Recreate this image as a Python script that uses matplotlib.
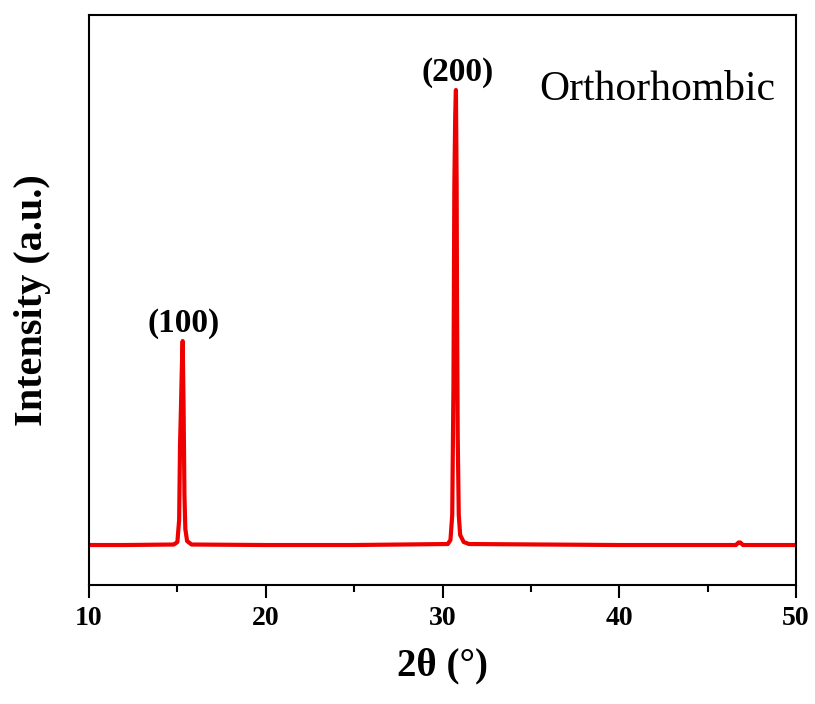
import matplotlib
matplotlib.use("Agg")
import matplotlib.pyplot as plt

# XRD pattern (arbitrary units)
two_theta = [10.0, 12.0, 14.8, 15.0, 15.1, 15.15, 15.2, 15.25, 15.3, 15.35, 15.4, 15.45, 15.55, 15.8,
             20.0, 25.0, 30.3, 30.45, 30.55, 30.62, 30.67, 30.72, 30.76, 30.8, 30.82, 30.86, 30.92,
             31.0, 31.2, 31.5, 40.0, 46.6, 46.75, 46.85, 47.0, 50.0]
intensity = [400, 400, 405, 430, 650, 1400, 1750, 2150, 2440, 1800, 900, 560, 440, 405,
             400, 400, 410, 450, 700, 2000, 4000, 4700, 4950, 4000, 2900, 1500, 700,
             500, 430, 410, 400, 400, 425, 425, 400, 400]

peak_labels = ["(100)", "(200)"]
peak_pos = [15.3, 30.76]
peak_int = [2440, 4950]

fig = plt.figure(figsize=(8.15, 7.04), dpi=100)
ax = fig.add_axes([0.1092, 0.169, 0.8675, 0.8097])

ax.plot(two_theta, intensity, color="#ee0000", lw=3)

for lab, px, py in zip(peak_labels, peak_pos, peak_int):
    ax.annotate(lab, (px, py), xytext=(1, 7), textcoords="offset points", ha="center", va="baseline",
                family="Liberation Serif", fontweight="bold", fontsize=24)

ax.text(0.97, 0.868, "Orthorhombic", transform=ax.transAxes, ha="right", va="center",
        family="Liberation Serif", fontsize=30)

ax.set_xlim(10, 50)
ax.set_ylim(0, 5700)
ax.set_xticks([10, 20, 30, 40, 50])
ax.set_xticks([15, 25, 35, 45], minor=True)
ax.set_yticks([])
ax.tick_params(axis="x", which="major", direction="out", length=9, width=1.5, pad=6)
ax.tick_params(axis="x", which="minor", direction="out", length=5, width=1.5)
for lab in ax.get_xticklabels():
    lab.set_family("Liberation Serif")
    lab.set_fontweight("bold")
    lab.set_fontsize(20)
for s in ax.spines.values():
    s.set_linewidth(1.5)

ax.set_xlabel("2θ (°)", family="Liberation Serif", fontweight="bold", fontsize=28, labelpad=12)
ax.set_ylabel("Intensity (a.u.)", family="Liberation Serif", fontweight="bold", fontsize=29, labelpad=27)

fig.savefig("out.png", dpi=100)
